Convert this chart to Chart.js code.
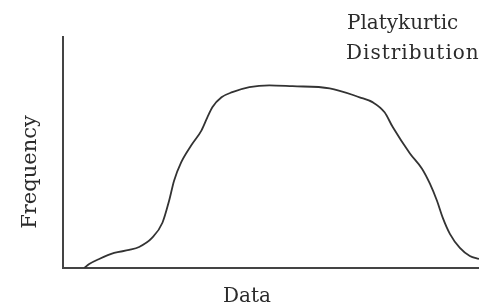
<!DOCTYPE html>
<html>
<head>
<meta charset="utf-8">
<script src="https://cdn.jsdelivr.net/npm/chart.js@4"></script>
<style>
  html, body { margin: 0; padding: 0; background: #fff; }
  #wrap { width: 479px; height: 307px; }
</style>
</head>
<body>
<div id="wrap"><canvas id="myChart"></canvas></div>
<script>
// curve (x: 0-100 along data axis, y: 0-100 frequency)
const dataX = [5.1, 6.3, 8.7, 12.3, 15.9, 18.3, 21.4, 23.9, 25.5, 26.7, 28.4, 30.8, 33.3, 34.7, 35.9, 38.1, 40.7, 44.8, 49.6, 55.2, 64.1, 71.3, 74.5, 77.3, 79.3, 83.4, 86.3, 88.2, 89.9, 91.3, 93.0, 95.4, 97.8, 100];
const frequency = [0, 1.7, 3.9, 6.5, 7.8, 9.1, 13.0, 19.6, 29.1, 37.8, 45.7, 53.0, 59.6, 65.2, 69.6, 73.9, 76.1, 78.3, 79.1, 78.7, 77.8, 73.9, 71.7, 67.4, 60.9, 49.6, 43.0, 36.5, 29.1, 21.7, 14.8, 8.7, 5.2, 3.9];
const xTitle = 'Data';
const yTitle = 'Frequency';
const note = ['Platykurtic', 'Distribution'];

const points = dataX.map(function (x, i) { return { x: x, y: frequency[i] }; });

// texts drawn by hand so they sit where the picture has them
const labelsPlugin = {
    id: 'labels',
    afterDraw(chart) {
        const ctx = chart.ctx;
        ctx.save();
        ctx.fillStyle = '#2b2b2b';
        ctx.font = '20px "DejaVu Serif"';
        ctx.textAlign = 'left';
        ctx.textBaseline = 'alphabetic';
        ctx.fillText(note[0], 347, 29);
        ctx.letterSpacing = '1px';
        ctx.fillText(note[1], 346, 59);
        ctx.letterSpacing = '0px';

        ctx.textAlign = 'center';
        ctx.textBaseline = 'middle';
        ctx.fillText(xTitle, 247, 297);

        ctx.font = '21px "DejaVu Serif"';
        ctx.translate(31, 172);
        ctx.rotate(-Math.PI / 2);
        ctx.fillText(yTitle, 0, 0);
        ctx.restore();
    }
};

new Chart('myChart', {
    type: 'scatter',
    data: {
        datasets: [{
            data: points,
            showLine: true,
            borderColor: '#333',
            borderWidth: 1.8,
            pointRadius: 0,
            cubicInterpolationMode: 'monotone',
            fill: false
        }]
    },
    options: {
        responsive: true,
        maintainAspectRatio: false,
        animation: false,
        layout: { padding: { left: 63, top: 37, right: 0, bottom: 39 } },
        plugins: {
            legend: { display: false },
            tooltip: { enabled: false }
        },
        scales: {
            x: {
                type: 'linear',
                min: 0,
                max: 100,
                grid: { display: false, drawTicks: false },
                border: { display: true, color: '#444', width: 2 },
                ticks: { display: false }
            },
            y: {
                min: 0,
                max: 100,
                grid: { display: false, drawTicks: false },
                border: { display: true, color: '#444', width: 2 },
                ticks: { display: false }
            }
        }
    },
    plugins: [labelsPlugin]
});
</script>
</body>
</html>
